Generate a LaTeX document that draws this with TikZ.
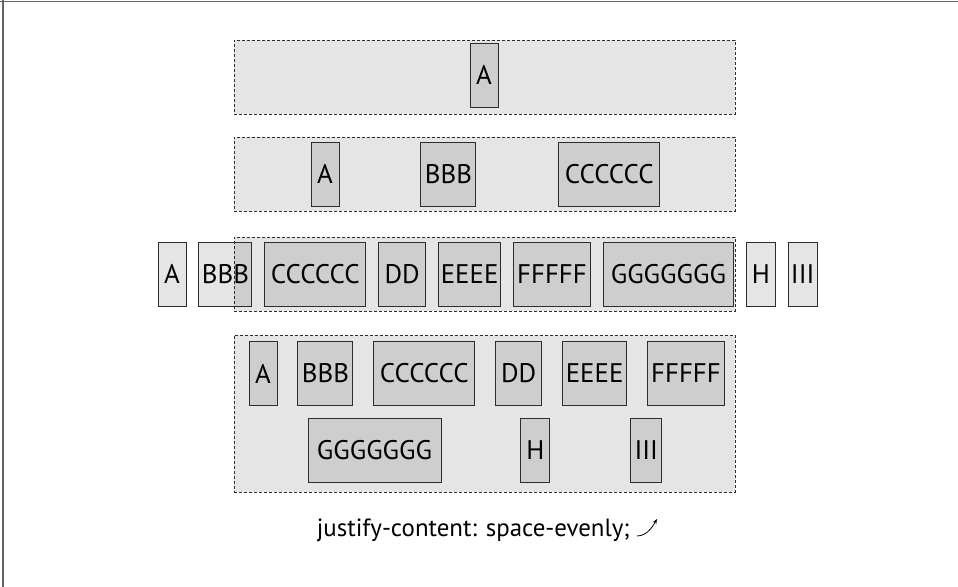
\documentclass[tikz,border=0pt]{standalone}
\usepackage{fontspec}
\setmainfont{PT Sans}
\usetikzlibrary{arrows.meta,positioning}
\definecolor{framegray}{RGB}{100,100,100}
\definecolor{edgegray}{RGB}{45,45,45}
\tikzset{
  flexbox/.style={
    draw=edgegray,
    dash pattern=on 3bp off 2bp,
    line width=0.9bp,
    fill=black,
    fill opacity=0.1,
    inner sep=0pt,
    minimum width=501bp,
    minimum height=74bp
  },
  item/.style={
    draw=edgegray,
    line width=0.9bp,
    fill=black,
    fill opacity=0.1,
    text opacity=1,
    inner sep=0pt,
    minimum height=64bp,
    font=\fontsize{27}{27}\selectfont
  },
  caption/.style={font=\fontsize{25}{28}\selectfont, inner sep=0pt},
  arrow/.style={-{Stealth[length=5bp,width=4bp]}, line width=0.8bp}
}

\begin{document}
\begin{tikzpicture}[x=1bp, y=-1bp]
  \useasboundingbox (0,0) rectangle (958,587);
  \draw[framegray, line width=1.8bp] (0,1.5) -- (958,1.5);
  \draw[framegray, line width=1.8bp] (3,0) -- (3,587);

  % one item, centered
  \node[flexbox] (row1) at (484.5,77) {};
  \node[item, minimum width=28bp] (oneA) at (484,75) {A};

  % three items
  \node[flexbox] (row2) at (484.5,174) {};
  \node[item, minimum width=28bp] (twoA) at (325,174) {A};
  \node[item, minimum width=55bp, right=81bp of twoA] (twoB) {BBB};
  \node[item, minimum width=101bp, right=82bp of twoB] (twoC) {CCCCCC};

  % overflowing line
  \node[flexbox] (row3) at (484.5,274) {};
  \node[item, minimum width=28bp] (thrA) at (172,274) {A};
  \node[item, minimum width=53bp, right=12bp of thrA] (thrB) {BBB};
  \node[item, minimum width=101bp, right=12bp of thrB] (thrC) {CCCCCC};
  \node[item, minimum width=47bp, right=12bp of thrC] (thrD) {DD};
  \node[item, minimum width=62bp, right=12bp of thrD] (thrE) {EEEE};
  \node[item, minimum width=77bp, right=12bp of thrE] (thrF) {FFFFF};
  \node[item, minimum width=130bp, right=12bp of thrF] (thrG) {GGGGGGG};
  \node[item, minimum width=29bp, right=12bp of thrG] (thrH) {H};
  \node[item, minimum width=29bp, right=12bp of thrH] (thrI) {III};

  % wrapped lines
  \node[flexbox, minimum height=157bp] (row4) at (484.5,413.5) {};
  \node[item, minimum width=28bp] (forA) at (263,373.5) {A};
  \node[item, minimum width=55bp, right=20bp of forA] (forB) {BBB};
  \node[item, minimum width=101bp, right=20bp of forB] (forC) {CCCCCC};
  \node[item, minimum width=46bp, right=20bp of forC] (forD) {DD};
  \node[item, minimum width=64bp, right=20bp of forD] (forE) {EEEE};
  \node[item, minimum width=77bp, right=20bp of forE] (forF) {FFFFF};
  \node[item, minimum width=133bp] (forG) at (374.5,450) {GGGGGGG};
  \node[item, minimum width=29bp, right=79bp of forG] (forH) {H};
  \node[item, minimum width=31bp, right=80bp of forH] (forI) {III};

  \node[caption, anchor=base east] (label) at (630,536) {justify-content: space-evenly;};
  \coordinate (curlstart) at ([xshift=7bp]label.base east);
  \coordinate (curlend) at ([xshift=27bp, yshift=17bp]label.base east);
  \draw[arrow] (curlstart) .. controls +(11,0) and +(-3,5) .. (curlend);
\end{tikzpicture}
\end{document}
